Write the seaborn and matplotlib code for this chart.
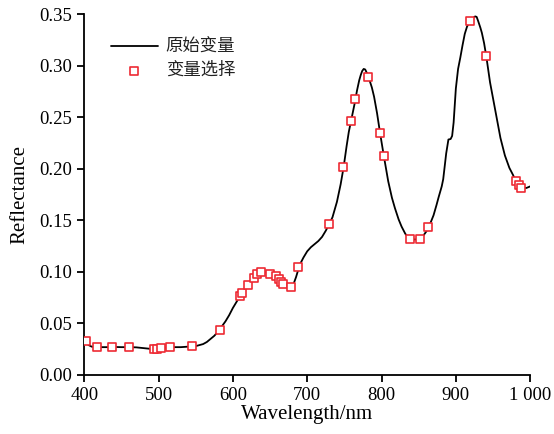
import matplotlib
matplotlib.use("Agg")
import matplotlib.pyplot as plt
from matplotlib.font_manager import FontProperties
import seaborn as sns
import pandas as pd

# Full spectrum
wavelength = [400, 403, 406, 410, 415, 420, 430, 440, 450, 460, 470, 480, 490, 495, 500,
              510, 520, 530, 540, 550, 555, 560, 565, 570, 575, 580, 585, 590, 595, 600,
              605, 610, 615, 620, 625, 630, 635, 640, 645, 650, 655, 660, 665, 670, 675,
              678, 681, 685, 690, 695, 700, 705, 710, 715, 720, 725, 730, 734, 740, 745,
              749, 753, 756, 760, 764, 767, 770, 772, 774, 776, 778, 781, 783, 787, 790,
              794, 798, 803, 809, 814, 818, 823, 827, 832, 836, 840, 845, 850, 855, 860,
              865, 870, 874, 877, 881, 883, 887, 890, 893, 895, 897, 900, 903, 906, 909,
              912, 915, 918, 921, 924, 926, 928, 930, 933, 935, 938, 941, 946, 953, 960,
              966, 972, 977, 980, 985, 990, 995, 1000]
reflectance = [0.034, 0.031, 0.029, 0.0275, 0.027, 0.027, 0.027, 0.0272, 0.027, 0.027,
               0.0268, 0.026, 0.0253, 0.0252, 0.0255, 0.0265, 0.027, 0.027, 0.0275, 0.028,
               0.029, 0.030, 0.032, 0.035, 0.038, 0.042, 0.047, 0.052, 0.058, 0.065,
               0.071, 0.077, 0.082, 0.087, 0.092, 0.096, 0.099, 0.100, 0.0995, 0.0985,
               0.097, 0.094, 0.091, 0.088, 0.086, 0.085, 0.087, 0.095, 0.107, 0.114,
               0.120, 0.124, 0.127, 0.130, 0.134, 0.140, 0.147, 0.153, 0.168, 0.185,
               0.2016, 0.222, 0.236, 0.250, 0.264, 0.276, 0.286, 0.291, 0.295, 0.297,
               0.2965, 0.292, 0.288, 0.279, 0.270, 0.254, 0.235, 0.213, 0.188, 0.172,
               0.162, 0.151, 0.144, 0.137, 0.1335, 0.132, 0.1315, 0.1318, 0.134, 0.139,
               0.146, 0.155, 0.165, 0.173, 0.183, 0.190, 0.215, 0.2285, 0.229, 0.232,
               0.245, 0.278, 0.297, 0.308, 0.320, 0.331, 0.338, 0.342, 0.344, 0.347,
               0.348, 0.3475, 0.3435, 0.337, 0.332, 0.322, 0.309, 0.284, 0.257, 0.230,
               0.213, 0.201, 0.194, 0.189, 0.184, 0.1815, 0.1815, 0.183]

# Selected variables
sel_wavelength = [402.3, 417.5, 436.9, 460.6, 493.8, 497.5, 503.3, 515.4, 545.4, 582.7,
                  609.6, 612.7, 620.0, 628.0, 632.5, 637.5, 649.6, 657.7, 662.5, 664.8,
                  668.0, 678.3, 688.1, 729.0, 748.7, 759.5, 764.4, 782.4, 798.1, 803.0,
                  838.9, 851.9, 862.7, 919.7, 940.8, 980.3, 985.2, 988.3]
sel_reflectance = [0.0333, 0.0269, 0.0272, 0.0269, 0.0253, 0.0256, 0.0262, 0.0269, 0.0279, 0.0440,
                   0.0771, 0.0797, 0.0872, 0.0943, 0.0982, 0.1001, 0.0982, 0.0962, 0.0930, 0.0907,
                   0.0882, 0.0853, 0.1047, 0.1468, 0.2016, 0.2463, 0.2677, 0.2894, 0.2346, 0.2129,
                   0.1322, 0.1322, 0.1432, 0.3432, 0.3095, 0.1883, 0.1840, 0.1815]

x_ticks = [400, 500, 600, 700, 800, 900, 1000]
x_tick_labels = ["400", "500", "600", "700", "800", "900", "1 000"]
y_ticks = [0.00, 0.05, 0.10, 0.15, 0.20, 0.25, 0.30, 0.35]
y_tick_labels = ["0.00", "0.05", "0.10", "0.15", "0.20", "0.25", "0.30", "0.35"]
legend_labels = ["原始变量", "变量选择"]

sns.set_style("ticks")
plt.rcParams["font.family"] = ["Liberation Serif", "DejaVu Serif"]
plt.rcParams["axes.linewidth"] = 1.3
plt.rcParams["text.color"] = "black"
plt.rcParams["axes.labelcolor"] = "black"
plt.rcParams["xtick.color"] = "black"
plt.rcParams["ytick.color"] = "black"
plt.rcParams["axes.edgecolor"] = "black"

fig = plt.figure(figsize=(5.54, 4.34), dpi=100)
ax = fig.add_axes([0.152, 0.136, 0.805, 0.831])

df_line = pd.DataFrame({"w": wavelength, "r": reflectance})
df_pts = pd.DataFrame({"w": sel_wavelength, "r": sel_reflectance})

sns.lineplot(data=df_line, x="w", y="r", ax=ax, color="black", linewidth=1.3,
             label=legend_labels[0], sort=True)
sns.scatterplot(data=df_pts, x="w", y="r", ax=ax, marker="s", s=36,
                facecolor="white", edgecolor="#ee2a33", linewidth=1.2,
                label=legend_labels[1], zorder=3)

ax.set_xlim(400, 1000)
ax.set_ylim(0, 0.35)
ax.set_xticks(x_ticks)
ax.set_xticklabels(x_tick_labels)
ax.set_yticks(y_ticks)
ax.set_yticklabels(y_tick_labels)
ax.tick_params(axis="both", direction="out", length=5, width=1.3, labelsize=13.5,
               colors="black")
ax.set_xlabel("Wavelength/nm", fontsize=15, labelpad=1, color="black")
ax.set_ylabel("Reflectance", fontsize=15, labelpad=7, color="black")
sns.despine(ax=ax)

leg_font = FontProperties(family=["Noto Sans CJK SC", "DejaVu Sans"], size=12.5)
leg = ax.legend(loc="upper left", bbox_to_anchor=(0.025, 0.978), frameon=False,
                prop=leg_font, handlelength=2.7, handletextpad=0.45, labelspacing=0.3,
                markerscale=0.85)
for t in leg.get_texts():
    t.set_color("#222222")

fig.savefig("out.png", dpi=100)
